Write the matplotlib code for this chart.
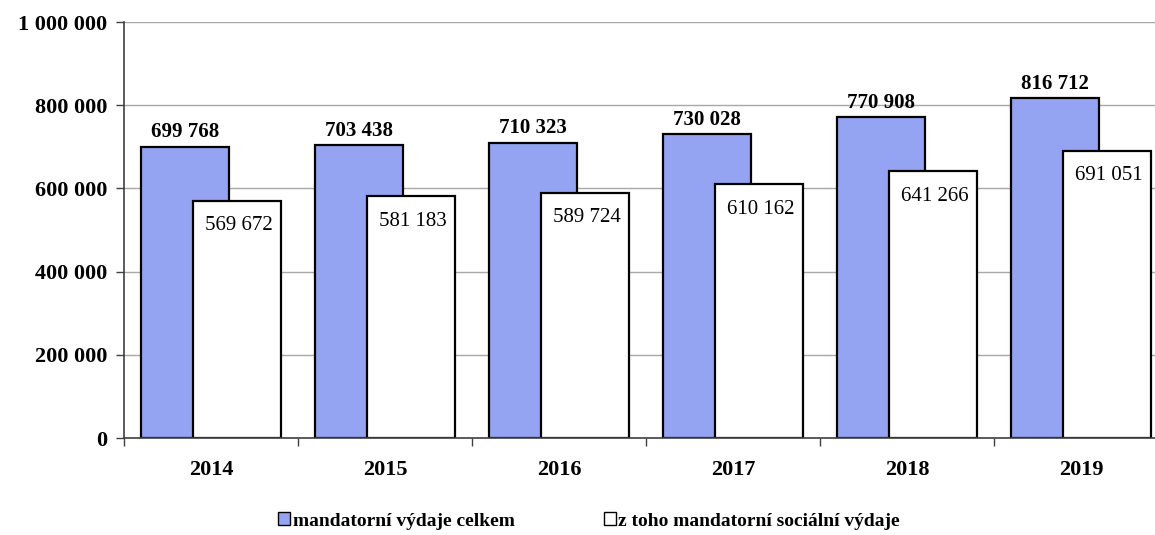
import matplotlib
matplotlib.use("Agg")
import matplotlib.pyplot as plt
from matplotlib.ticker import FuncFormatter, FixedLocator
from matplotlib.patches import Patch

years = ["2014", "2015", "2016", "2017", "2018", "2019"]
total = [699768, 703438, 710323, 730028, 770908, 816712]
social = [569672, 581183, 589724, 610162, 641266, 691051]
series_names = ["mandatorní výdaje celkem", "z toho mandatorní sociální výdaje"]

plt.rcParams['font.family'] = ['Liberation Serif', 'DejaVu Serif']

W, H = 1155, 535
fig = plt.figure(figsize=(W / 100, H / 100), dpi=100)
left, right, top, bottom = 124, 1168, 22, 438
ax = fig.add_axes([left / W, (H - bottom) / H, (right - left) / W, (bottom - top) / H])

def fmt(v):
    return f"{int(v):,}".replace(",", " ")

x = list(range(len(years)))
blue = "#94A3F2"
ax.bar([i - 0.15 for i in x], total, width=0.505, color=blue, edgecolor="black",
       linewidth=1.6, zorder=3)
ax.bar([i + 0.15 for i in x], social, width=0.505, color="white", edgecolor="black",
       linewidth=1.6, zorder=4)

for i, (t, s) in enumerate(zip(total, social)):
    ax.text(i - 0.15, t + 11000, fmt(t), ha="center", va="bottom",
            fontsize=15, fontweight="bold", zorder=5)
    ax.text(i + 0.16, s - 60000, fmt(s), ha="center", va="center",
            fontsize=15, zorder=5)

ax.set_xlim(-0.5, len(years) - 0.5)
ax.set_ylim(0, 1000000)
ax.set_yticks([0, 200000, 400000, 600000, 800000, 1000000])
ax.yaxis.set_major_formatter(FuncFormatter(lambda v, p: fmt(v)))
ax.yaxis.grid(True, color="#a8a8a8", linewidth=1.0, zorder=0)
ax.set_axisbelow(True)

ax.set_xticks(x)
ax.set_xticklabels(years)
ax.xaxis.set_minor_locator(FixedLocator([i + 0.5 for i in range(-1, len(years))]))
ax.tick_params(axis="x", which="major", length=0, pad=16)
ax.tick_params(axis="x", which="minor", length=6, width=1, color="#404040", direction="out")
ax.tick_params(axis="y", which="major", length=6, width=1, color="#404040", direction="out", pad=6)
for lbl in ax.get_xticklabels() + ax.get_yticklabels():
    lbl.set_fontweight("bold")
    lbl.set_fontsize(16)

for s in ["top", "right"]:
    ax.spines[s].set_visible(False)
for s in ["left", "bottom"]:
    ax.spines[s].set_color("#404040")
    ax.spines[s].set_linewidth(1.2)
    ax.spines[s].set_zorder(6)

handles = [Patch(facecolor=blue, edgecolor="black", linewidth=1),
           Patch(facecolor="white", edgecolor="black", linewidth=1)]
leg = fig.legend(handles, series_names, loc="center", bbox_to_anchor=(589 / W, 1 - 521 / H),
                 ncol=2, frameon=False, handlelength=0.6, handleheight=0.6,
                 handletextpad=0.15, columnspacing=4.6,
                 prop={"weight": "bold", "size": 14, "family": ['Liberation Serif']})

fig.savefig("out.png", dpi=100)
